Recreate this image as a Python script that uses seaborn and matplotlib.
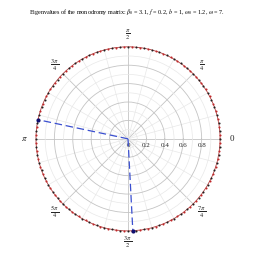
import numpy as np
import matplotlib
matplotlib.use("Agg")
import matplotlib.pyplot as plt
import matplotlib.transforms as mtransforms
import seaborn as sns
import pandas as pd

# ---- data ----
# eigenvalues lying on the unit circle (angles in degrees, modulus 1)
eig_black_deg = [0, 5, 10, 15, 20, 25, 30, 35, 40, 45, 50, 55, 60, 65, 70, 75, 80, 85,
                 90, 95, 100, 105, 110, 115, 120, 125, 130, 135, 140, 145, 150, 155, 160, 165,
                 170, 175, 180, 185, 190, 195, 200, 205, 210, 215, 220, 225, 230, 235, 240, 245,
                 250, 255, 260, 265, 270, 275, 280, 285, 290, 295, 300, 305, 310, 315, 320, 325,
                 330, 335, 340, 345, 350, 355]
eig_red_deg = [2.5, 7.5, 12.5, 17.5, 22.5, 27.5, 32.5, 37.5, 42.5, 47.5, 52.5, 57.5, 62.5,
               67.5, 72.5, 77.5, 82.5, 87.5, 92.5, 97.5, 102.5, 107.5, 112.5, 117.5, 122.5,
               127.5, 132.5, 137.5, 142.5, 147.5, 152.5, 157.5, 162.5, 167.5, 172.5, 177.5,
               182.5, 187.5, 192.5, 197.5, 202.5, 207.5, 212.5, 217.5, 222.5, 227.5, 232.5,
               237.5, 242.5, 247.5, 252.5, 257.5, 262.5, 267.5, 272.5, 277.5, 282.5, 287.5,
               292.5, 297.5, 302.5, 307.5, 312.5, 317.5, 322.5, 327.5, 332.5, 337.5, 342.5,
               347.5, 352.5, 357.5]
eig_modulus = 1.0
# highlighted eigenvalues (joined to the origin by dashed lines)
highlight_deg = [168.0, 273.0]
highlight_modulus = [1.0, 1.0]

angle_ticks_deg = [0, 45, 90, 135, 180, 225, 270, 315]
angle_labels = ["0", r"$\frac{\pi}{4}$", r"$\frac{\pi}{2}$", r"$\frac{3\,\pi}{4}$", r"$\pi$",
                r"$\frac{5\,\pi}{4}$", r"$\frac{3\,\pi}{2}$", r"$\frac{7\,\pi}{4}$"]
radial_ticks = [0, 0.2, 0.4, 0.6, 0.8]
radial_labels = ["0", "0.2", "0.4", "0.6", "0.8"]

title = (r"Eigenvalues of the monodromy matrix: $\beta_0$ = 3.1, $f$ = 0.2, "
         r"$b$ = 1, $\omega_0$ = 1.2, $\omega$ = 7.")

# ---- style ----
sns.set_theme(style="white")
plt.rcParams["font.family"] = ["Liberation Serif", "DejaVu Serif"]
plt.rcParams["mathtext.fontset"] = "stix"

fig = plt.figure(figsize=(2.55, 2.6), dpi=100)
ax = fig.add_axes([0.141, 0.112, 0.722, 0.708], projection="polar")
ax.set_facecolor("white")

df_black = pd.DataFrame({"theta": np.deg2rad(eig_black_deg), "r": eig_modulus})
df_red = pd.DataFrame({"theta": np.deg2rad(eig_red_deg), "r": eig_modulus})

sns.scatterplot(data=df_red, x="theta", y="r", ax=ax, color="#c0282a", s=2.2,
                linewidth=0, zorder=5, clip_on=False, legend=False)
sns.scatterplot(data=df_black, x="theta", y="r", ax=ax, color="#202020", s=2.2,
                linewidth=0, zorder=6, clip_on=False, legend=False)

for th, rr in zip(highlight_deg, highlight_modulus):
    dfl = pd.DataFrame({"theta": np.deg2rad([th, th]), "r": [0.0, rr]})
    sns.lineplot(data=dfl, x="theta", y="r", ax=ax, sort=False, estimator=None,
                 color="#3a4fd0", linewidth=0.9, dashes=False, zorder=7, legend=False)
    ax.lines[-1].set_linestyle((0, (6, 3)))
    sns.scatterplot(x=[np.deg2rad(th)], y=[rr], ax=ax, color="#101070", s=9,
                    linewidth=0, zorder=8, clip_on=False, legend=False)

ax.set_ylim(0, 1.0)
ax.set_xticks(np.deg2rad(angle_ticks_deg))
ax.set_xticklabels(angle_labels, fontsize=6.5)
ax.set_xticks(np.deg2rad(np.arange(0, 360, 15)), minor=True)
ax.set_yticks(radial_ticks)
ax.set_yticklabels(radial_labels, fontsize=5)
ax.set_yticks([0.1, 0.3, 0.5, 0.7, 0.9], minor=True)
ax.set_rlabel_position(0)
ax.tick_params(axis="x", which="major", pad=0, length=3, width=0.6,
               color="#909090", direction="inout")
ax.tick_params(axis="x", which="minor", length=0)
ax.grid(which="major", color="#c4c4c4", linewidth=0.6)
ax.grid(which="minor", color="#e8e8e8", linewidth=0.5)
ax.spines["polar"].set_color("#b04040")
ax.spines["polar"].set_linewidth(0.6)
ax.set_xlabel("")
ax.set_ylabel("")

off = mtransforms.ScaledTranslation(0, -3 / 72, fig.dpi_scale_trans)
for lab in ax.get_yticklabels():
    lab.set_transform(lab.get_transform() + off)
    lab.set_ha("center")
    lab.set_va("top")

fig.text(0.5, 0.952, title, ha="center", va="center", fontsize=4.4, color="black")

fig.savefig("out.png", dpi=100, facecolor="white")
